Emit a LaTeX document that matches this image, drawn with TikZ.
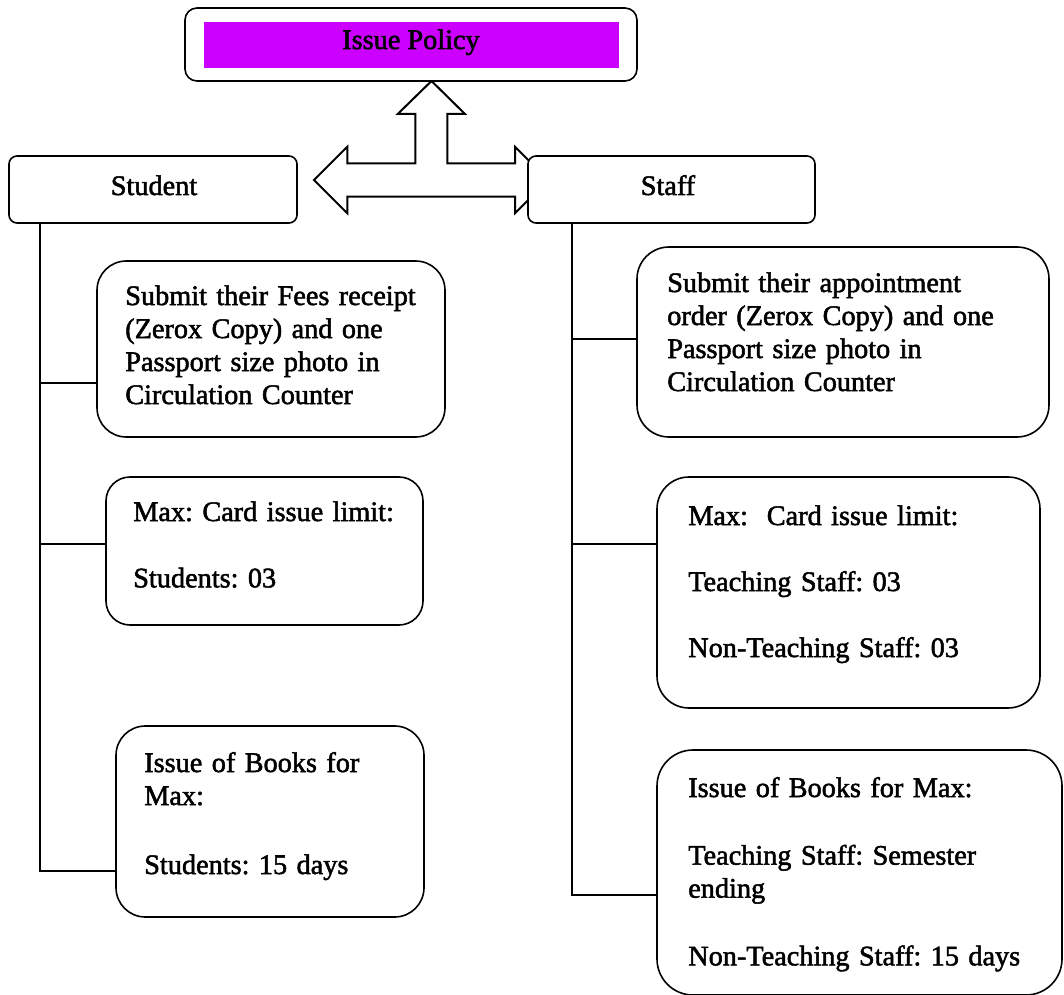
\documentclass[tikz,border=0pt]{standalone}
\usepackage{fontspec}
\setmainfont{Liberation Serif}
\newfontfamily\heavyserif{Liberation Serif}[FakeBold=1.8]
\usetikzlibrary{fit}
\definecolor{titlefill}{HTML}{CC00FF}
\begin{document}
\begin{tikzpicture}[x=0.75pt,y=-0.75pt,
  box/.style={draw, line width=1.2pt, fill=white, inner sep=0pt},
  conn/.style={line width=1pt},
  bigarrow/.style={draw, line width=1.5pt, fill=white, line join=miter},
  txt/.style={anchor=base west, inner sep=0pt, align=left, text width=330pt,
    font=\heavyserif\fontsize{21.2}{24.75}\selectfont\frenchspacing},
  hdr/.style={anchor=base, inner sep=0pt, font=\heavyserif\fontsize{21.2}{24.75}\selectfont}]
\useasboundingbox (0,0) rectangle (1064,995);

% three-way block arrow
\draw[bigarrow] (314,180) -- (347.3,146.7) -- (347.3,163.3) -- (415.3,163.3) -- (415.3,114)
  -- (397.7,114) -- (431.5,81) -- (465,114) -- (447.3,114) -- (447.3,163.3) -- (515,163.3)
  -- (515,146.7) -- (548,180) -- (515,213.3) -- (515,196.7) -- (347.3,196.7) -- (347.3,213.3) -- cycle;

% title
\node[box, rounded corners=9pt, fit={(185,8) (637,81)}] (title) {};
\node[fill=titlefill, inner sep=0pt, fit={(204,22) (619,68)}] (titlebar) {};
\node[hdr] (titletext) at (411,49) {Issue Policy};

% headers
\node[box, rounded corners=6pt, fit={(9,156) (297,223)}] (stu) {};
\node[hdr] (stutext) at (154,195) {Student};
\node[box, rounded corners=6pt, fit={(528,156) (815,223)}] (stf) {};
\node[hdr] (stftext) at (668,195) {Staff};

% student boxes
\node[box, rounded corners=22pt, fit={(97,261) (445,437)}] (sb1) {};
\node[txt] (sb1t) at (125,305) {Submit their Fees receipt\\(Zerox Copy) and one\\Passport size photo in\\Circulation Counter};
\node[box, rounded corners=18pt, fit={(106,477) (423,625)}] (sb2) {};
\node[txt] (sb2t) at (133,521) {Max: Card issue limit:\\[25pt]Students: 03};
\node[box, rounded corners=22pt, fit={(116,726) (424,917)}] (sb3) {};
\node[txt] (sb3t) at (144,772) {Issue of Books for\\Max:\\[27pt]Students: 15 days};

% staff boxes
\node[box, rounded corners=24pt, fit={(637,247) (1049,437)}] (fb1) {};
\node[txt] (fb1t) at (667,292) {Submit their appointment\\order (Zerox Copy) and one\\Passport size photo in\\Circulation Counter};
\node[box, rounded corners=24pt, fit={(657,477) (1040,708)}] (fb2) {};
\node[txt] (fb2t) at (688,525) {Max:\ \ Card issue limit:\\[24.75pt]Teaching Staff: 03\\[24.75pt]Non-Teaching Staff: 03};
\node[box, rounded corners=27pt, fit={(657,750) (1062,995)}] (fb3) {};
\node[txt] (fb3t) at (688,797) {Issue of Books for Max:\\[26pt]Teaching Staff: Semester\\ending\\[26pt]Non-Teaching Staff: 15 days};

% student tree
\coordinate (sL) at (40,0);
\coordinate (sy1) at (0,383);
\coordinate (sy2) at (0,544);
\coordinate (sy3) at (0,871);
\draw[conn] (stu.south -| sL) -- (sL |- sy3) -- (sb3.west |- sy3);
\draw[conn] (sL |- sy1) -- (sb1.west |- sy1);
\draw[conn] (sL |- sy2) -- (sb2.west |- sy2);

% staff tree
\coordinate (fL) at (572,0);
\coordinate (fy1) at (0,339);
\coordinate (fy2) at (0,544);
\coordinate (fy3) at (0,895);
\draw[conn] (stf.south -| fL) -- (fL |- fy3) -- (fb3.west |- fy3);
\draw[conn] (fL |- fy1) -- (fb1.west |- fy1);
\draw[conn] (fL |- fy2) -- (fb2.west |- fy2);
\end{tikzpicture}
\end{document}
